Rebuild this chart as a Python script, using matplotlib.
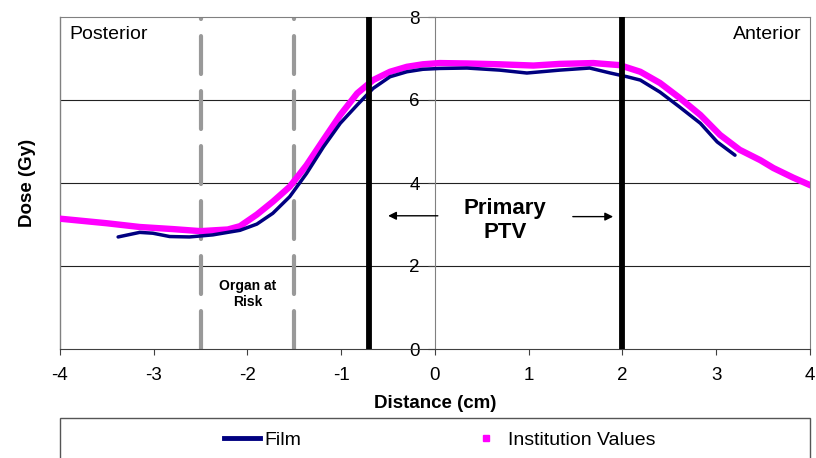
import matplotlib
matplotlib.use("Agg")
import matplotlib.pyplot as plt
from matplotlib.lines import Line2D
from matplotlib.patches import Rectangle

plt.rcParams['font.family'] = ['Liberation Sans', 'DejaVu Sans']
plt.rcParams['axes.unicode_minus'] = False

# ---- data ----
inst_x = [-4.00, -3.50, -3.15, -2.80, -2.50, -2.21, -2.08, -1.90, -1.73, -1.55,
          -1.37, -1.19, -1.01, -0.83, -0.66, -0.48, -0.30, -0.13, 0.05, 0.35,
          0.69, 1.05, 1.33, 1.69, 1.97, 2.19, 2.40, 2.61, 2.83, 3.04,
          3.25, 3.47, 3.61, 3.82, 4.00]
inst_y = [3.14, 3.03, 2.94, 2.89, 2.84, 2.88, 2.96, 3.24, 3.55, 3.91,
          4.43, 5.04, 5.64, 6.16, 6.48, 6.68, 6.80, 6.86, 6.89, 6.88,
          6.86, 6.83, 6.87, 6.89, 6.84, 6.68, 6.41, 6.05, 5.64, 5.16,
          4.80, 4.55, 4.36, 4.13, 3.95]

film_x = [-3.38, -3.15, -3.01, -2.83, -2.62, -2.37, -2.08, -1.90, -1.73, -1.55,
          -1.37, -1.19, -1.01, -0.83, -0.66, -0.48, -0.30, -0.13, 0.05, 0.34,
          0.69, 0.98, 1.33, 1.65, 1.87, 2.05, 2.19, 2.40, 2.61, 2.83,
          3.01, 3.20]
film_y = [2.70, 2.81, 2.79, 2.71, 2.70, 2.75, 2.86, 3.01, 3.27, 3.67,
          4.23, 4.87, 5.44, 5.88, 6.28, 6.56, 6.68, 6.74, 6.76, 6.77,
          6.72, 6.65, 6.72, 6.77, 6.65, 6.56, 6.48, 6.19, 5.83, 5.44,
          4.99, 4.67]

oar_bounds = [-2.5, -1.5]
ptv_bounds = [-0.7, 2.0]
x_ticks = [-4, -3, -2, -1, 0, 1, 2, 3, 4]
y_ticks = [0, 2, 4, 6, 8]

W, H = 816, 458
fig = plt.figure(figsize=(W / 100, H / 100), dpi=100)
ax = fig.add_axes([60 / W, 1 - 349 / H, 750 / W, 332 / H])
ax.set_xlim(-4, 4)
ax.set_ylim(0, 8)

# grid
for yv in y_ticks[1:-1]:
    ax.axhline(yv, color='#222222', lw=0.8, zorder=1)

# spines
ax.spines['left'].set_position(('data', 0))
ax.spines['left'].set_color('#808080')
ax.spines['top'].set_color('#808080')
ax.spines['right'].set_color('#808080')
ax.spines['bottom'].set_color('#404040')
ax.axvline(-4, color='#808080', lw=1, clip_on=False, zorder=1)

# region lines
for xb in oar_bounds:
    ax.plot([xb, xb], [0, 8], color='#999999', lw=3, dashes=(9.1, 4.1),
            dash_capstyle='round', zorder=2)
for xb in ptv_bounds:
    ax.plot([xb, xb], [0, 8], color='black', lw=4.2, zorder=5)

# data
ax.plot(inst_x, inst_y, color='#FF00FF', lw=4.6, zorder=3)
ax.plot(film_x, film_y, color='#000080', lw=2.5, zorder=4,
        solid_capstyle='round')

# ticks
ax.set_xticks(x_ticks)
ax.set_xticklabels([str(v) for v in x_ticks])
ax.set_yticks(y_ticks)
ax.set_yticklabels([str(v) for v in y_ticks])
ax.tick_params(axis='x', direction='out', length=4, width=0.8,
               color='#404040', labelsize=13.5, pad=9)
ax.tick_params(axis='y', direction='out', length=5, width=0.8,
               color='#404040', labelsize=13.5, pad=6)

ax.set_xlabel('Distance (cm)', fontsize=13.5, fontweight='bold')
ax.xaxis.set_label_coords(0.5, (349 - 403) / 332)
ax.xaxis.label.set_va('center')
ax.set_ylabel('Dose (Gy)', fontsize=13.5, fontweight='bold')
ax.yaxis.set_label_coords((28 - 60) / 750, 0.5)
ax.yaxis.label.set_va('center')
ax.yaxis.label.set_ha('center')

# annotations
ax.text(-3.904, 7.57, 'Posterior', fontsize=14, ha='left', va='center')
ax.text(3.915, 7.57, 'Anterior', fontsize=14, ha='right', va='center')
ax.text(0.75, 3.1, 'Primary\nPTV', fontsize=16, fontweight='bold',
        ha='center', va='center', linespacing=1.15)
ax.text(-2.0, 1.32, 'Organ at\nRisk', fontsize=10, fontweight='bold',
        ha='center', va='center', linespacing=1.2)
ax.annotate('', xy=(-0.50, 3.21), xytext=(0.03, 3.21),
            arrowprops=dict(arrowstyle='-|>', color='black', lw=1,
                            mutation_scale=12, shrinkA=0, shrinkB=0))
ax.annotate('', xy=(1.90, 3.19), xytext=(1.47, 3.19),
            arrowprops=dict(arrowstyle='-|>', color='black', lw=1,
                            mutation_scale=12, shrinkA=0, shrinkB=0))

# legend box and legend
fig.patches.append(Rectangle((60 / W, -0.1), 750 / W, 0.1 + (458 - 418) / H,
                             transform=fig.transFigure, fill=False,
                             edgecolor='#555555', lw=1))
handles = [Line2D([], [], color='#000080', lw=3.5),
           Line2D([], [], color='#FF00FF', marker='s', ls='none', ms=4)]
fig.legend(handles, ['Film', 'Institution Values'], loc='center',
           bbox_to_anchor=(440 / W, 1 - 440 / H), ncol=2, frameon=False,
           fontsize=14, handlelength=1.85, handletextpad=0.2,
           columnspacing=8.6, borderpad=0)

fig.savefig('out.png', dpi=100)
